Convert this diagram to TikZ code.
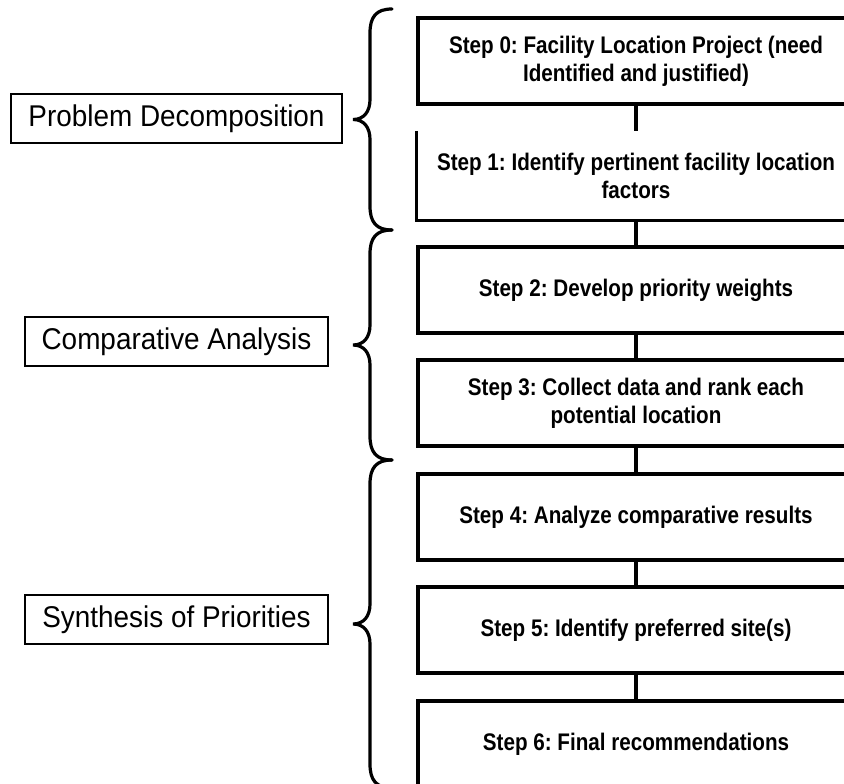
\documentclass[tikz,border=0pt]{standalone}
\usepackage{fontspec}
\setmainfont{Liberation Sans}
\newfontfamily\stepfont{Liberation Sans}[FakeStretch=0.86]
\newfontfamily\phasefont{Liberation Sans}[FakeStretch=0.93]
\frenchspacing
\usetikzlibrary{calc}

\tikzset{
  stepbox/.style={draw, line width=3.2pt, minimum width=436pt, minimum height=86pt,
    inner sep=0pt, align=center, font=\stepfont\bfseries\fontsize{24}{28}\selectfont},
  phasebox/.style={draw, line width=2.8pt, minimum height=49pt, inner sep=0pt,
    font=\phasefont\fontsize{30}{34}\selectfont},
  link/.style={line width=3.2pt},
  curly/.style={line width=3.2pt, line cap=round},
}

\begin{document}
\begin{tikzpicture}[x=1pt, y=-1pt]
    \useasboundingbox (0,0) rectangle (844,784);

    % steps
    \node[stepbox] (s0) at (636,61) {Step 0: Facility Location Project (need\\Identified and justified)};
    \node[stepbox, draw=none] (s1) at (636,175.5) {Step 1: Identify pertinent facility location\\factors};
    \draw[link] (s1.north west) -- (s1.south west) -- (s1.south east) -- (s1.north east);
    \node[stepbox] (s2) at (636,290) {Step 2: Develop priority weights};
    \node[stepbox] (s3) at (636,403) {Step 3: Collect data and rank each\\potential location};
    \node[stepbox] (s4) at (636,517) {Step 4: Analyze comparative results};
    \node[stepbox] (s5) at (636,630) {Step 5: Identify preferred site(s)};
    \node[stepbox] (s6) at (636,744) {Step 6: Final recommendations};

    \foreach \a/\b in {s0/s1, s1/s2, s2/s3, s3/s4, s4/s5, s5/s6}
        \draw[link] (\a) -- (\b);

    % phases
    \node[phasebox, minimum width=331pt] (decomp) at (176.5,118.5) {Problem Decomposition};
    \node[phasebox, minimum width=303pt] (compare) at (176.5,341.5) {Comparative Analysis};
    \node[phasebox, minimum width=303pt] (synth) at (176.5,619.5) {Synthesis of Priorities};

    % braces
    \foreach \t/\b in {9/230, 230/460, 460/788} {
        \pgfmathsetmacro\m{(\t+\b)/2}
        \draw[curly] (392,\t) .. controls (376,\t) and (370,\t+8) .. (370,\t+24)
            -- (370,\m-20) .. controls (370,\m-8) and (364,\m) .. (353,\m)
            .. controls (364,\m) and (370,\m+8) .. (370,\m+20)
            -- (370,\b-24) .. controls (370,\b-8) and (376,\b) .. (392,\b);
    }
\end{tikzpicture}
\end{document}
